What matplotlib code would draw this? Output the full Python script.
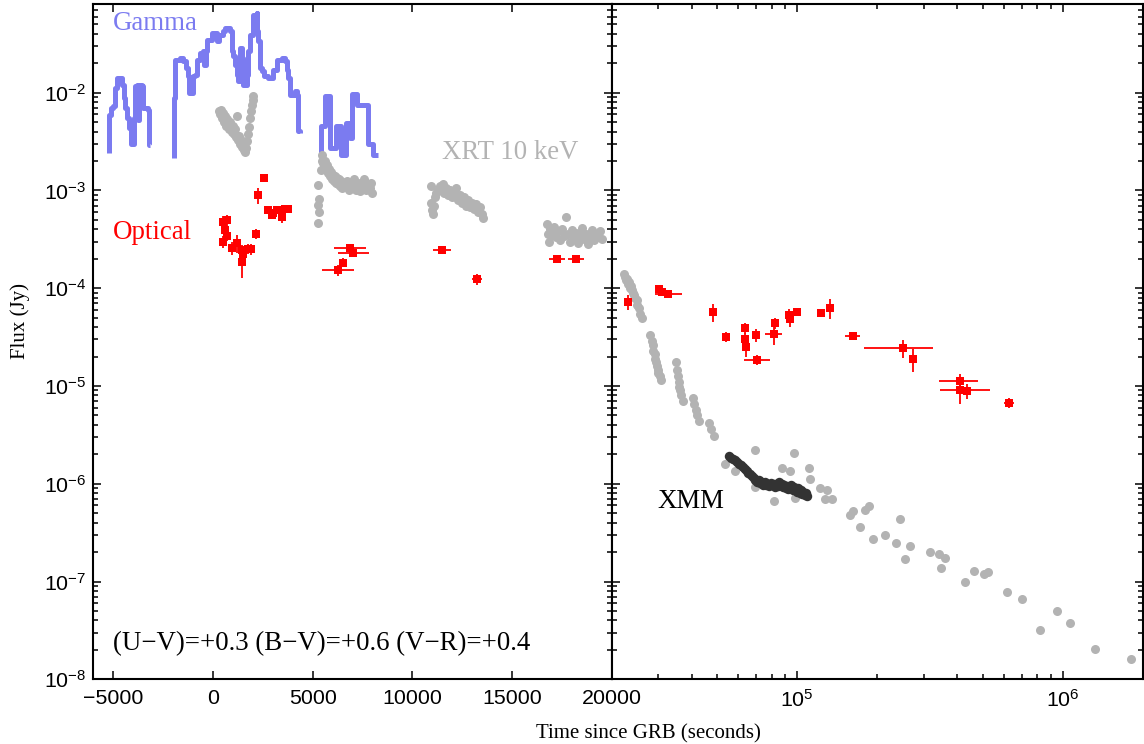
import numpy as np
import matplotlib
matplotlib.use("Agg")
import matplotlib.pyplot as plt
from matplotlib.ticker import FixedLocator, NullFormatter, FuncFormatter, LogLocator

plt.rcParams['font.family'] = ['Liberation Sans', 'DejaVu Sans']
plt.rcParams['mathtext.fontset'] = 'custom'
plt.rcParams['mathtext.rm'] = 'Liberation Sans'
plt.rcParams['mathtext.it'] = 'Liberation Sans:italic'
plt.rcParams['mathtext.bf'] = 'Liberation Sans:bold'

# ---- gamma light curve (BAT), three pieces
gamma_t1 = [-5197, -5197, -5112, -5012, -4912, -4811, -4661, -4560, -4460, -4410, -4310, -4209,
            -4109, -4009, -3958, -3908, -3800, -3760, -3720, -3658, -3557, -3507, -3256, -3206, -3156]
gamma_f1 = [2.4e-3, 5.9e-3, 6.95e-3, 7.3e-3, 1.11e-2, 1.41e-2, 1.41e-2, 1.2e-2, 8.8e-3, 6.95e-3, 5.5e-3, 4.34e-3,
            3.0e-3, 3.0e-3, 5.5e-3, 1.18e-2, 1.2e-2, 5.2e-3, 1.2e-2, 1.2e-2, 1.18e-2, 6.95e-3, 6.6e-3, 2.9e-3, 2.9e-3]

gamma_t2 = [-1937, -1937, -1902, -1651, -1486, -1350, -1235, -1185, -1064, -1014, -899, -813, -648, -512,
            -447, -347, -282, -146, -61, 105, 190, 320, 491, 606, 857, 942, 1022, 1108, 1193, 1273, 1358,
            1444, 1494, 1609, 1695, 1775, 1860, 1996, 2196, 2226, 2277, 2362, 2447, 2562, 2778, 3029, 3199,
            3450, 3616, 3701, 3781, 3866, 4117, 4233, 4283, 4368]
gamma_f2 = [2.13e-3, 8.8e-3, 2.16e-2, 2.26e-2, 2.1e-2, 1.79e-2, 1.48e-2, 9.9e-3, 9.9e-3, 1.48e-2, 1.52e-2,
            2.16e-2, 2.55e-2, 2.67e-2, 1.92e-2, 2.67e-2, 3.47e-2, 3.47e-2, 4.09e-2, 4.09e-2, 3.39e-2, 3.9e-2,
            4.29e-2, 4.6e-2, 4.29e-2, 2.67e-2, 2.37e-2, 1.92e-2, 1.52e-2, 1.31e-2, 2.87e-2, 2.26e-2, 1.2e-2,
            1.2e-2, 1.52e-2, 2.67e-2, 3.9e-2, 6.25e-2, 6.56e-2, 4.29e-2, 3.39e-2, 1.79e-2, 1.67e-2, 1.48e-2,
            1.41e-2, 1.71e-2, 2.16e-2, 2.26e-2, 2.1e-2, 1.71e-2, 1.41e-2, 9.45e-3, 1.04e-2, 9.45e-3, 4.04e-3,
            3.85e-3]

gamma_t3 = [5421, 5421, 5622, 5873, 6174, 6425, 6676, 6876, 6977, 7228, 7779, 8030, 8281]
gamma_f3 = [2.29e-3, 4.54e-3, 9.2e-3, 2.7e-3, 4.54e-3, 2.29e-3, 4.87e-3, 3.43e-3, 9.7e-3, 7.47e-3, 3.0e-3,
            2.29e-3, 2.29e-3]

# ---- XRT 10 keV, early part (linear time axis)
xrt_t_early = [300, 350, 400, 450, 500, 550, 600, 650, 700, 750, 800, 850, 900, 950, 1000, 1050, 1100,
               1150, 1190, 1250, 1300, 1350, 1400, 1450, 1500, 1550, 1600, 1650, 1700, 1750, 1800, 1850,
               1900, 1950, 2000, 2030,
               5290, 5300, 5290, 5300, 5290,
               5420, 5450, 5480, 5520, 5550, 5600, 5650, 5700, 5750, 5800, 5850, 5900, 5950, 6000, 6050,
               6100, 6150, 6200, 6250, 6300, 6350, 6400, 6450, 6500, 6600, 6700, 6800, 6900, 7000, 7100,
               7200, 7300, 7400, 7500, 7600, 7700, 7800, 7900, 7950, 7980,
               10950, 10950, 11000, 11050, 11100, 11150, 11200, 11300, 11400, 11500, 11550, 11600, 11700,
               11800, 11900, 12000, 12100, 12200, 12300, 12400, 12500, 12600, 12700, 12800, 12900, 13000,
               13100, 13200, 13300, 13400, 13500, 13550,
               16750, 16800, 16850, 16900, 17000, 17100, 17200, 17300, 17400, 17500, 17600, 17700, 17800,
               17900, 18000, 18100, 18200, 18300, 18400, 18500, 18600, 18700, 18800, 18900, 19000, 19100,
               19200, 19300, 19400, 19500]
xrt_f_early = [6.5e-3, 6.0e-3, 6.6e-3, 5.5e-3, 6.2e-3, 5.0e-3, 5.8e-3, 4.6e-3, 5.4e-3, 4.8e-3, 4.2e-3,
               5.0e-3, 4.4e-3, 4.0e-3, 4.6e-3, 3.8e-3, 4.2e-3, 3.5e-3, 5.8e-3, 3.3e-3, 3.6e-3, 3.0e-3,
               3.3e-3, 2.8e-3, 3.0e-3, 2.6e-3, 2.45e-3, 2.7e-3, 3.2e-3, 3.8e-3, 4.5e-3, 5.5e-3, 6.5e-3,
               7.5e-3, 8.5e-3, 9.2e-3,
               1.13e-3, 8.2e-4, 7.1e-4, 6.0e-4, 4.6e-4,
               1.6e-3, 2.0e-3, 2.3e-3, 1.9e-3, 1.7e-3, 2.0e-3, 1.6e-3, 1.8e-3, 1.5e-3, 1.65e-3, 1.4e-3,
               1.55e-3, 1.3e-3, 1.45e-3, 1.25e-3, 1.4e-3, 1.2e-3, 1.35e-3, 1.15e-3, 1.3e-3, 1.1e-3,
               1.25e-3, 1.05e-3, 1.2e-3, 1.1e-3, 1.25e-3, 1.0e-3, 1.15e-3, 1.05e-3, 1.3e-3, 1.0e-3,
               1.2e-3, 0.98e-3, 1.1e-3, 1.3e-3, 1.0e-3, 1.15e-3, 1.05e-3, 1.2e-3, 0.95e-3,
               1.1e-3, 7.5e-4, 6.3e-4, 5.8e-4, 7.0e-4, 8.5e-4, 9.5e-4, 1.0e-3, 1.1e-3, 1.05e-3, 1.15e-3,
               0.95e-3, 1.05e-3, 0.9e-3, 1.0e-3, 0.85e-3, 0.95e-3, 1.05e-3, 0.8e-3, 0.9e-3, 0.75e-3,
               0.85e-3, 0.7e-3, 0.8e-3, 0.68e-3, 0.75e-3, 0.65e-3, 0.72e-3, 0.6e-3, 0.68e-3, 0.58e-3,
               0.52e-3,
               4.5e-4, 3.6e-4, 3.0e-4, 4.0e-4, 3.5e-4, 4.2e-4, 3.3e-4, 3.8e-4, 3.1e-4, 4.0e-4, 3.4e-4,
               5.3e-4, 3.6e-4, 3.0e-4, 3.9e-4, 3.3e-4, 3.7e-4, 2.9e-4, 3.5e-4, 4.1e-4, 3.2e-4, 3.6e-4,
               2.8e-4, 3.4e-4, 3.9e-4, 3.1e-4, 3.5e-4, 3.3e-4, 3.8e-4, 3.2e-4]

# ---- XRT 10 keV, late part (log time axis)
xrt_t_late = [22200, 22400, 22600, 22800, 23000, 23200, 23400, 23600, 23800, 24000, 24200, 24500, 24800,
              25000, 25300, 25600, 26000,
              28000, 28300, 28500, 28700, 29000, 29200, 29400, 29600, 29800, 30000, 30300, 30600,
              34800, 35200, 35500, 35800, 36000, 36300, 36600, 37000,
              40500, 41000, 41500, 42000, 42500, 46500, 47500, 48500,
              53530, 58350, 69460, 69460, 81430, 87560, 94100, 96850, 98290, 110300, 111300, 122100,
              129400, 127500, 135100, 158400, 162200, 171700, 180400, 185700, 192900, 214700, 235500,
              243000, 253800, 265000, 315300, 340900, 349000, 361300, 427200, 464800, 503800, 523500,
              617300, 703100, 824100, 952600, 1.069e6, 1.328e6, 1.80e6]
xrt_f_late = [1.4e-4, 1.3e-4, 1.2e-4, 1.25e-4, 1.1e-4, 1.15e-4, 1.0e-4, 1.05e-4, 9.5e-5, 9.0e-5, 8.5e-5,
              8.0e-5, 7.5e-5, 6.8e-5, 6.2e-5, 5.5e-5, 5.0e-5,
              3.3e-5, 2.9e-5, 2.6e-5, 2.3e-5, 2.1e-5, 1.9e-5, 1.75e-5, 1.6e-5, 1.45e-5, 1.35e-5, 1.25e-5,
              1.15e-5,
              1.75e-5, 1.45e-5, 1.25e-5, 1.1e-5, 9.8e-6, 9.0e-6, 8.0e-6, 7.0e-6,
              7.5e-6, 6.5e-6, 5.7e-6, 5.0e-6, 4.4e-6, 4.2e-6, 3.6e-6, 3.1e-6,
              1.58e-6, 1.35e-6, 2.22e-6, 9.3e-7, 6.6e-7, 1.44e-6, 1.35e-6, 2.05e-6, 7.2e-7, 1.46e-6,
              1.11e-6, 9.1e-7, 8.6e-7, 7.0e-7, 7.0e-7, 4.74e-7, 5.25e-7, 3.6e-7, 5.37e-7, 5.9e-7, 2.69e-7,
              3.0e-7, 2.46e-7, 4.31e-7, 1.70e-7, 2.29e-7, 2.01e-7, 1.92e-7, 1.39e-7, 1.76e-7, 9.97e-8,
              1.27e-7, 1.18e-7, 1.24e-7, 7.9e-8, 6.6e-8, 3.18e-8, 4.99e-8, 3.76e-8, 2.05e-8, 1.6e-8]

# ---- XMM
xmm_t = [55500, 56500, 57500, 58500, 59500, 60500, 61500, 62500, 63500, 64500, 65500, 66500, 67500,
         68500, 69500, 70500, 71500, 72500, 73500, 74500, 75500, 76500, 77500, 78500, 79500, 80500,
         81500, 82500, 83500, 84500, 85500, 86500, 87500, 88500, 89500, 90500, 91500, 92500, 93500,
         94500, 95500, 96500, 97500, 98500, 99500, 100500, 101500, 102500, 103500, 104500, 105500,
         106500, 107500, 108500]
xmm_f = [1.9e-6, 1.85e-6, 1.8e-6, 1.75e-6, 1.65e-6, 1.6e-6, 1.55e-6, 1.5e-6, 1.4e-6, 1.35e-6, 1.3e-6,
         1.25e-6, 1.2e-6, 1.15e-6, 1.1e-6, 1.05e-6, 1.08e-6, 1.02e-6, 1.05e-6, 0.98e-6, 1.03e-6, 0.97e-6,
         1.0e-6, 0.95e-6, 1.02e-6, 0.96e-6, 0.99e-6, 0.93e-6, 1.0e-6, 0.95e-6, 1.05e-6, 0.97e-6, 1.0e-6,
         0.92e-6, 0.96e-6, 0.9e-6, 0.95e-6, 0.88e-6, 0.94e-6, 0.98e-6, 0.9e-6, 0.86e-6, 0.93e-6, 0.88e-6,
         0.82e-6, 0.9e-6, 0.85e-6, 0.8e-6, 0.87e-6, 0.78e-6, 0.82e-6, 0.76e-6, 0.8e-6, 0.75e-6]

# ---- optical, early (linear axis)
opt_t_early = [521, 691, 606, 691, 491, 942, 1223, 1444, 1524, 1775, 1895, 1444, 2161, 2276, 2562, 2778,
               2999, 3199, 3365, 3616, 3781, 2949, 3450, 6876, 7042, 6540, 6259, 11476, 13231, 17274, 18212]
opt_terr_early = [0, 0, 0, 0, 0, 0, 0, 0, 0, 0, 0, 150, 0, 0, 0, 0, 0, 0, 0, 0, 0, 0, 0, 787, 770, 0, 810,
                  444, 250, 394, 419]
opt_f_early = [4.7e-4, 4.96e-4, 3.9e-4, 3.43e-4, 2.98e-4, 2.6e-4, 2.91e-4, 2.45e-4, 2.26e-4, 2.54e-4,
               2.5e-4, 1.86e-4, 3.6e-4, 8.9e-4, 1.35e-3, 6.3e-4, 5.9e-4, 6.3e-4, 6.3e-4, 6.4e-4, 6.4e-4,
               5.58e-4, 5.4e-4, 2.59e-4, 2.3e-4, 1.83e-4, 1.52e-4, 2.44e-4, 1.23e-4, 2.01e-4, 1.98e-4]
opt_ferr_early = [8e-5, 6e-5, 5e-5, 4e-5, 4e-5, 4e-5, 6e-5, 3e-5, 3e-5, 3e-5, 3e-5, 6e-5, 4e-5, 1.6e-4,
                  1e-4, 5e-5, 6e-5, 5e-5, 5e-5, 5e-5, 5e-5, 5e-5, 8e-5, 2e-5, 2e-5, 2e-5, 2e-5, 2e-5,
                  1.5e-5, 1.5e-5, 1.5e-5]

# ---- optical, late (log axis)
opt_t_late = [23130, 30270, 30900, 32720, 48350, 54000, 63680, 63680, 64240, 70070, 70490, 81430, 82620,
              93290, 94100, 99740, 122800, 132300, 162200, 250300, 272600, 411600, 411600, 436200, 628000]
opt_tlo_late = [0, 0, 0, 3560, 0, 0, 0, 0, 0, 0, 7740, 5670, 0, 0, 0, 0, 0, 0, 10500, 71400, 0, 70700,
                67700, 0, 28700]
opt_thi_late = [0, 0, 0, 4030, 0, 0, 0, 0, 0, 0, 8150, 6130, 0, 0, 0, 0, 0, 0, 10600, 74500, 0, 68300,
                119100, 0, 25600]
opt_f_late = [7.3e-5, 9.7e-5, 9.1e-5, 8.8e-5, 5.7e-5, 3.2e-5, 3.9e-5, 3.0e-5, 2.5e-5, 3.3e-5, 1.85e-5,
              3.4e-5, 4.4e-5, 5.35e-5, 4.8e-5, 5.7e-5, 5.6e-5, 6.3e-5, 3.28e-5, 2.43e-5, 1.89e-5, 1.13e-5,
              9.1e-6, 8.9e-6, 6.7e-6]
opt_ferr_late = [1.3e-5, 8e-6, 6e-6, 5e-6, 1.2e-5, 4e-6, 5e-6, 5e-6, 5e-6, 5e-6, 2e-6, 8e-6, 6e-6, 8e-6,
                 8e-6, 5e-6, 5e-6, 1.5e-5, 3e-6, 5e-6, 5e-6, 2e-6, 2.5e-6, 1.5e-6, 8e-7]

blue = '#7b7bf0'
grey = '#b3b3b3'
serif = ['Liberation Serif', 'DejaVu Serif']

fig = plt.figure(figsize=(11.44, 7.44), dpi=100)
W, H = 1144.0, 744.0
ax1 = fig.add_axes([93.3 / W, 1 - 679.3 / H, (611.7 - 93.3) / W, (679.3 - 4.3) / H])
ax2 = fig.add_axes([611.7 / W, 1 - 679.3 / H, (1142.7 - 611.7) / W, (679.3 - 4.3) / H])

# left panel
for gt, gf in [(gamma_t1, gamma_f1), (gamma_t2, gamma_f2), (gamma_t3, gamma_f3)]:
    ax1.plot(gt, gf, color=blue, lw=3.6, drawstyle='steps-post', solid_joinstyle='round',
             solid_capstyle='butt', zorder=2)
ax1.plot(xrt_t_early, xrt_f_early, 'o', color=grey, ms=6.5, mew=0, zorder=3)
ax1.errorbar(opt_t_early, opt_f_early, xerr=opt_terr_early, yerr=opt_ferr_early, fmt='s', color='red',
             ms=6.3, mew=0, elinewidth=1.3, capsize=0, zorder=4)

# right panel
ax2.plot(xrt_t_late, xrt_f_late, 'o', color=grey, ms=6.5, mew=0, zorder=3)
ax2.plot(xmm_t, xmm_f, 'o', color='#333333', ms=6.8, mew=0, zorder=3)
ax2.errorbar(opt_t_late, opt_f_late, xerr=[opt_tlo_late, opt_thi_late], yerr=opt_ferr_late, fmt='s',
             color='red', ms=6.3, mew=0, elinewidth=1.3, capsize=0, zorder=4)

for ax in (ax1, ax2):
    ax.set_yscale('log')
    ax.set_ylim(1e-8, 0.08)
    ax.yaxis.set_major_locator(LogLocator(base=10, numticks=20))
    ax.yaxis.set_minor_locator(LogLocator(base=10, subs=np.arange(2, 10), numticks=20))
    ax.yaxis.set_minor_formatter(NullFormatter())
    ax.tick_params(which='both', direction='in', top=True, right=True, width=1.1, labelsize=15.4)
    ax.tick_params(which='major', length=6)
    ax.tick_params(which='minor', length=3.5)
    ax.tick_params(axis='x', pad=7)
    ax.tick_params(axis='y', pad=5)
    for s in ax.spines.values():
        s.set_linewidth(1.5)

ax1.set_xlim(-6000, 20000)
ax1.set_xticks([-5000, 0, 5000, 10000, 15000, 20000])
ax1.set_xticklabels(['\u22125000', '0', '5000', '10000', '15000', '20000'])
ax1.yaxis.set_major_formatter(FuncFormatter(lambda v, p: r'$\mathregular{10^{%d}}$' % round(np.log10(v))))

ax2.set_xscale('log')
ax2.set_xlim(2e4, 2e6)
ax2.xaxis.set_major_locator(FixedLocator([1e5, 1e6]))
ax2.xaxis.set_minor_locator(LogLocator(base=10, subs=np.arange(2, 10), numticks=20))
ax2.xaxis.set_minor_formatter(NullFormatter())
ax2.xaxis.set_major_formatter(FuncFormatter(lambda v, p: r'$\mathregular{10^{%d}}$' % round(np.log10(v))))
ax2.yaxis.set_major_formatter(NullFormatter())

# annotations
ax1.text(-5000, 5.1e-2, 'Gamma', color=blue, fontsize=19.4, family=serif, va='center', ha='left')
ax1.text(11500, 2.46e-3, 'XRT 10 keV', color=grey, fontsize=19.4, family=serif, va='center', ha='left')
ax1.text(-5000, 3.7e-4, 'Optical', color='red', fontsize=19.4, family=serif, va='center', ha='left')
ax1.text(-5000, 2.3e-8, '(U\u2212V)=+0.3 (B\u2212V)=+0.6 (V\u2212R)=+0.4', color='black', fontsize=19.4,
         family=serif, va='center', ha='left')
ax2.text(29700, 6.65e-7, 'XMM', color='black', fontsize=19.4, family=serif, va='center', ha='left')

fig.text(20 / W, 1 - 321 / H, 'Flux (Jy)', rotation=90, fontsize=15, family=serif, va='center', ha='center')
fig.text(648 / W, 1 - 734 / H, 'Time since GRB (seconds)', fontsize=15, family=serif, va='center',
         ha='center')

fig.savefig('out.png', dpi=100)
